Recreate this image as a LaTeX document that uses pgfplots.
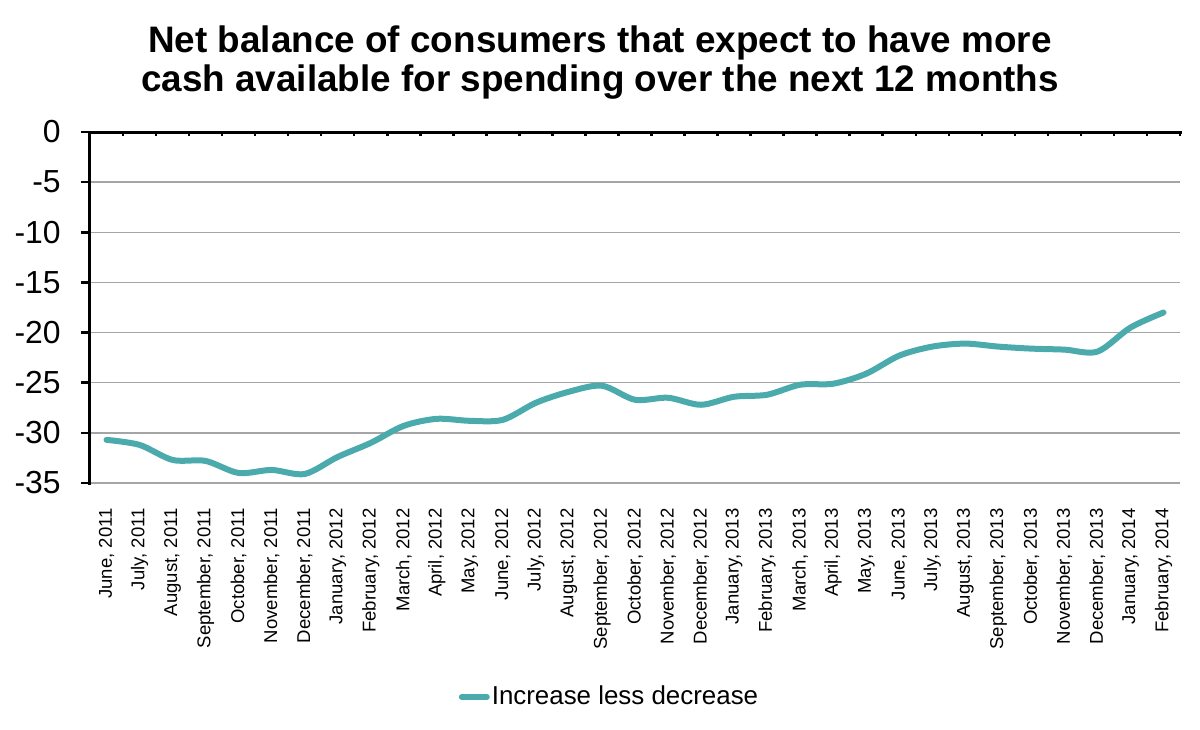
\documentclass[border=0pt]{standalone}
\usepackage{fontspec}
\setmainfont{Liberation Sans}
\usepackage{pgfplots}
\pgfplotsset{compat=1.18}
\definecolor{lineteal}{RGB}{75,171,172}
\definecolor{gridgray}{RGB}{165,165,165}
\begin{document}
\begin{tikzpicture}
\useasboundingbox (0,0) rectangle (600bp,365bp);
\node[anchor=base, font=\fontsize{18.5}{20}\selectfont\bfseries] at (300bp,338.5bp) {Net balance of consumers that expect to have more};
\node[anchor=base, font=\fontsize{18.5}{20}\selectfont\bfseries] at (300bp,319bp) {cash available for spending over the next 12 months};
\begin{axis}[
  at={(45bp,123.5bp)}, anchor=south west,
  scale only axis, width=545bp, height=175.5bp,
  xmin=-0.5, xmax=32.5, ymin=-35, ymax=0,
  axis line style={draw=none},
  xtick={0,...,32},
  xticklabels={{June, 2011},{July, 2011},{August, 2011},{September, 2011},{October, 2011},{November, 2011},{December, 2011},{January, 2012},{February, 2012},{March, 2012},{April, 2012},{May, 2012},{June, 2012},{July, 2012},{August, 2012},{September, 2012},{October, 2012},{November, 2012},{December, 2012},{January, 2013},{February, 2013},{March, 2013},{April, 2013},{May, 2013},{June, 2013},{July, 2013},{August, 2013},{September, 2013},{October, 2013},{November, 2013},{December, 2013},{January, 2014},{February, 2014}},
  x tick label style={rotate=90, anchor=east, inner sep=0pt, font=\fontsize{9.3}{10}\selectfont},
  xticklabel shift=8bp,
  xtick style={draw=none},
  ytick={-35,-30,...,0},
  yticklabels={-35,-30,-25,-20,-15,-10,-5,0},
  ytick pos=left,
  tick align=outside,
  major tick length=4.5bp,
  ytick style={black, line width=1.25bp},
  y tick label style={inner sep=0pt, font=\fontsize{16}{18}\selectfont},
  yticklabel shift=10bp,
  ymajorgrids,
  grid style={gridgray, line width=0.75bp},
  legend style={at={(0.4766,-0.6097)}, anchor=center, draw=none, fill=none,
    font=\fontsize{13}{15}\selectfont, nodes={inner sep=1bp}},
  legend image code/.code={\draw[#1, line cap=round] (0bp,0bp) -- (12.5bp,0bp);},
  clip=false,
]
\addplot[lineteal, line width=3bp, smooth, line cap=round, line join=round] coordinates {
(0,-30.7) (1,-31.2) (2,-32.7) (3,-32.8) (4,-34.0) (5,-33.7) (6,-34.1)
(7,-32.4) (8,-31.0) (9,-29.3) (10,-28.6) (11,-28.8) (12,-28.7) (13,-27.0)
(14,-25.9) (15,-25.3) (16,-26.7) (17,-26.5) (18,-27.2) (19,-26.4) (20,-26.2)
(21,-25.2) (22,-25.1) (23,-24.1) (24,-22.3) (25,-21.4) (26,-21.1) (27,-21.4)
(28,-21.6) (29,-21.7) (30,-21.9) (31,-19.5) (32,-18.0)
};
\addlegendentry{Increase less decrease}
\draw[black, line width=1.5bp, line cap=rect] (rel axis cs:0,0) -- (rel axis cs:0,1) -- (rel axis cs:1,1);
\pgfplotsinvokeforeach{0.5,1.5,...,32.5}{
  \draw[black, line width=1.25bp] (axis cs:#1,0) -- ([yshift=-2.2bp]axis cs:#1,0);
}
\end{axis}
\end{tikzpicture}
\end{document}
